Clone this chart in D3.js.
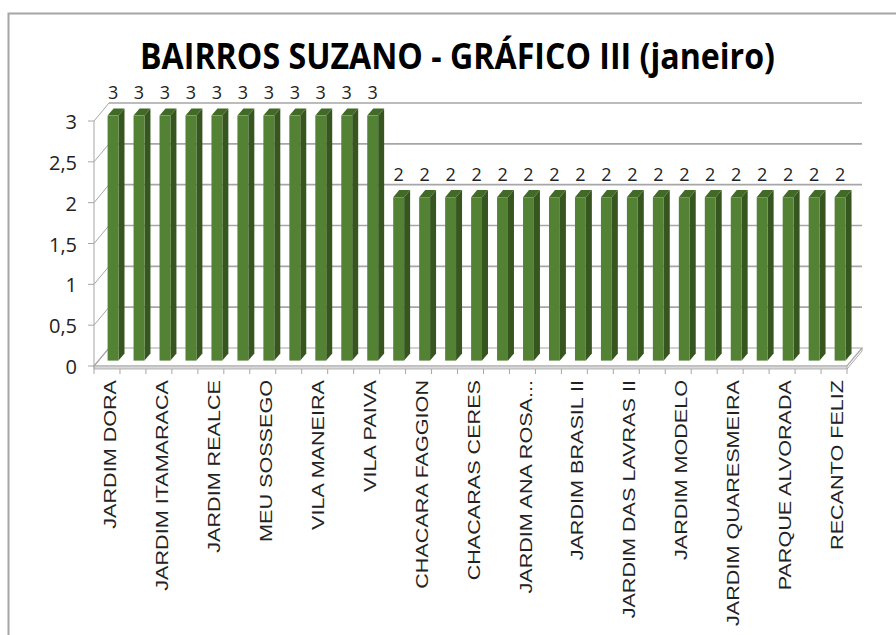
<!DOCTYPE html>
<html>
<head>
<meta charset="utf-8">
<script src="https://cdn.jsdelivr.net/npm/d3@7"></script>
<style>
  body { margin: 0; background: #fff; }
  svg { display: block; }
</style>
</head>
<body>
<div id="chart"></div>
<script>
// Excel only printed every other category label; the hidden ones are null
var categories = [
  "JARDIM DORA", null, "JARDIM ITAMARACA", null, "JARDIM REALCE", null,
  "MEU SOSSEGO", null, "VILA MANEIRA", null, "VILA PAIVA", null,
  "CHACARA FAGGION", null, "CHACARAS CERES", null, "JARDIM ANA ROSA...", null,
  "JARDIM BRASIL II", null, "JARDIM DAS LAVRAS II", null, "JARDIM MODELO", null,
  "JARDIM QUARESMEIRA", null, "PARQUE ALVORADA", null, "RECANTO FELIZ"
];
var values = [3, 3, 3, 3, 3, 3, 3, 3, 3, 3, 3,
              2, 2, 2, 2, 2, 2, 2, 2, 2, 2, 2, 2, 2, 2, 2, 2, 2, 2];
var yTicks = [0, 0.5, 1, 1.5, 2, 2.5, 3];
var title = "BAIRROS SUZANO - GRÁFICO III (janeiro)";

var width = 896, height = 635;

// 3D look: the back wall is shifted by (depthX, depthY) from the front plane
var depthX = 15, depthY = -18;
var t0 = 0.3, t1 = 0.7;   // depth of the bar front and back faces

var svg = d3.select("#chart")
  .append("svg")
    .attr("width", width)
    .attr("height", height);

// outer chart border
svg.append("rect")
  .attr("x", 8.5).attr("y", 13.5)
  .attr("width", 900).attr("height", 640)
  .attr("fill", "none")
  .attr("stroke", "#a6a6a6")
  .attr("stroke-width", 2);

// title
svg.append("text")
  .attr("x", 140).attr("y", 69)
  .attr("textLength", 635)
  .attr("lengthAdjust", "spacingAndGlyphs")
  .style("font-family", "'Open Sans', sans-serif")
  .style("font-weight", "bold")
  .style("font-size", "35px")
  .text(title);

var x = d3.scaleBand()
  .domain(d3.range(categories.length))
  .range([94, 847]);
var bw = x.bandwidth();

var y = d3.scaleLinear()
  .domain([0, 3])
  .range([366, 121]);

var gridColor = "#a6a6a6";

// floor
var y0 = y(0);
svg.append("path")
  .attr("d", "M94," + y0 + "L847," + y0 + "L" + (847 + depthX) + "," + (y0 + depthY) +
             "L" + (94 + depthX) + "," + (y0 + depthY) + "Z")
  .attr("fill", "#fff")
  .attr("stroke", gridColor)
  .attr("stroke-width", 1.2);
svg.append("rect")
  .attr("x", 94).attr("y", y0)
  .attr("width", 753).attr("height", 3)
  .attr("fill", "#d9d9d9")
  .attr("stroke", gridColor)
  .attr("stroke-width", 0.8);
svg.append("path")
  .attr("d", "M847," + (y0 + 3) + "L" + (847 + depthX) + "," + (y0 + depthY + 3) +
             "L" + (847 + depthX) + "," + (y0 + depthY))
  .attr("fill", "none")
  .attr("stroke", gridColor);

// back wall gridlines and side wall diagonals
var grid = svg.append("g").attr("stroke", gridColor).attr("stroke-width", 1.6);
grid.selectAll(".gb")
  .data(yTicks.filter(function(d) { return d > 0; }))
  .enter().append("line")
    .attr("x1", 94 + depthX).attr("x2", 847 + depthX)
    .attr("y1", function(d) { return y(d) + depthY; })
    .attr("y2", function(d) { return y(d) + depthY; });
grid.selectAll(".gs")
  .data(yTicks)
  .enter().append("line")
    .attr("stroke-width", 1)
    .attr("x1", 94).attr("x2", 94 + depthX)
    .attr("y1", function(d) { return y(d); })
    .attr("y2", function(d) { return y(d) + depthY; });
grid.append("line")
  .attr("stroke-width", 1)
  .attr("x1", 94).attr("x2", 94)
  .attr("y1", y(3)).attr("y2", y(0) + 3);

// y axis ticks and labels
svg.selectAll(".yt")
  .data(yTicks)
  .enter().append("line")
    .attr("x1", 88).attr("x2", 94)
    .attr("y1", function(d) { return y(d); })
    .attr("y2", function(d) { return y(d); })
    .attr("stroke", gridColor);
svg.selectAll(".yl")
  .data(yTicks)
  .enter().append("text")
    .attr("x", 77)
    .attr("y", function(d) { return y(d) + 8; })
    .attr("text-anchor", "end")
    .style("font-family", "'Open Sans', sans-serif")
    .style("font-size", "20px")
    .style("fill", "#222")
    .text(function(d) { return String(d).replace(".", ","); });

// x axis ticks at band edges
svg.selectAll(".xt")
  .data(d3.range(categories.length + 1))
  .enter().append("line")
    .attr("x1", function(d) { return 94 + d * bw; })
    .attr("x2", function(d) { return 94 + d * bw; })
    .attr("y1", y0 + 3).attr("y2", y0 + 8)
    .attr("stroke", gridColor);

// bars
var bars = svg.selectAll(".bar")
  .data(values)
  .enter().append("g")
    .attr("class", "bar");

var fw = bw * 0.42;
var ddx = depthX * (t1 - t0), ddy = depthY * (t1 - t0);
function barLeft(i) { return x(i) + bw * 0.35 + depthX * t0; }
function barTop(d) { return y(d) + depthY * t0; }
var base = y(0) + depthY * t0;

bars.append("path")   // side face
  .attr("d", function(d, i) {
    var l = barLeft(i) + fw, t = barTop(d);
    return "M" + l + "," + t + "L" + (l + ddx) + "," + (t + ddy) +
           "L" + (l + ddx) + "," + (base + ddy) + "L" + l + "," + base + "Z";
  })
  .attr("fill", "#37561f");
bars.append("path")   // top face
  .attr("d", function(d, i) {
    var l = barLeft(i), t = barTop(d);
    return "M" + l + "," + t + "L" + (l + fw) + "," + t +
           "L" + (l + fw + ddx) + "," + (t + ddy) + "L" + (l + ddx) + "," + (t + ddy) + "Z";
  })
  .attr("fill", "#426a27");
bars.append("rect")   // front face
  .attr("x", function(d, i) { return barLeft(i); })
  .attr("y", function(d) { return barTop(d); })
  .attr("width", fw)
  .attr("height", function(d) { return base - barTop(d); })
  .attr("fill", "#548235");

// data labels
svg.selectAll(".dl")
  .data(values)
  .enter().append("text")
    .attr("x", function(d, i) { return barLeft(i) + fw / 2; })
    .attr("y", function(d) { return barTop(d) + ddy - 9; })
    .attr("text-anchor", "middle")
    .style("font-family", "'Open Sans', sans-serif")
    .style("font-size", "18px")
    .style("fill", "#222")
    .text(function(d) { return d; });

// category labels, rotated
var cl = svg.selectAll(".cl")
  .data(categories.map(function(c, i) { return {name: c, i: i}; })
                  .filter(function(d) { return d.name; }))
  .enter().append("text")
    .attr("transform", function(d) {
      return "translate(" + (x(d.i) + bw / 2 + 3) + ",380) rotate(-90)";
    })
    .attr("dy", "0.36em")
    .attr("text-anchor", "end")
    .style("font-family", "'Liberation Sans', Arial, sans-serif")
    .style("font-size", "17px")
    .style("fill", "#222")
    .text(function(d) { return d.name; });
cl.each(function() {
  var len = this.getComputedTextLength();
  d3.select(this)
    .attr("textLength", len * 1.27)
    .attr("lengthAdjust", "spacingAndGlyphs");
});
</script>
</body>
</html>
